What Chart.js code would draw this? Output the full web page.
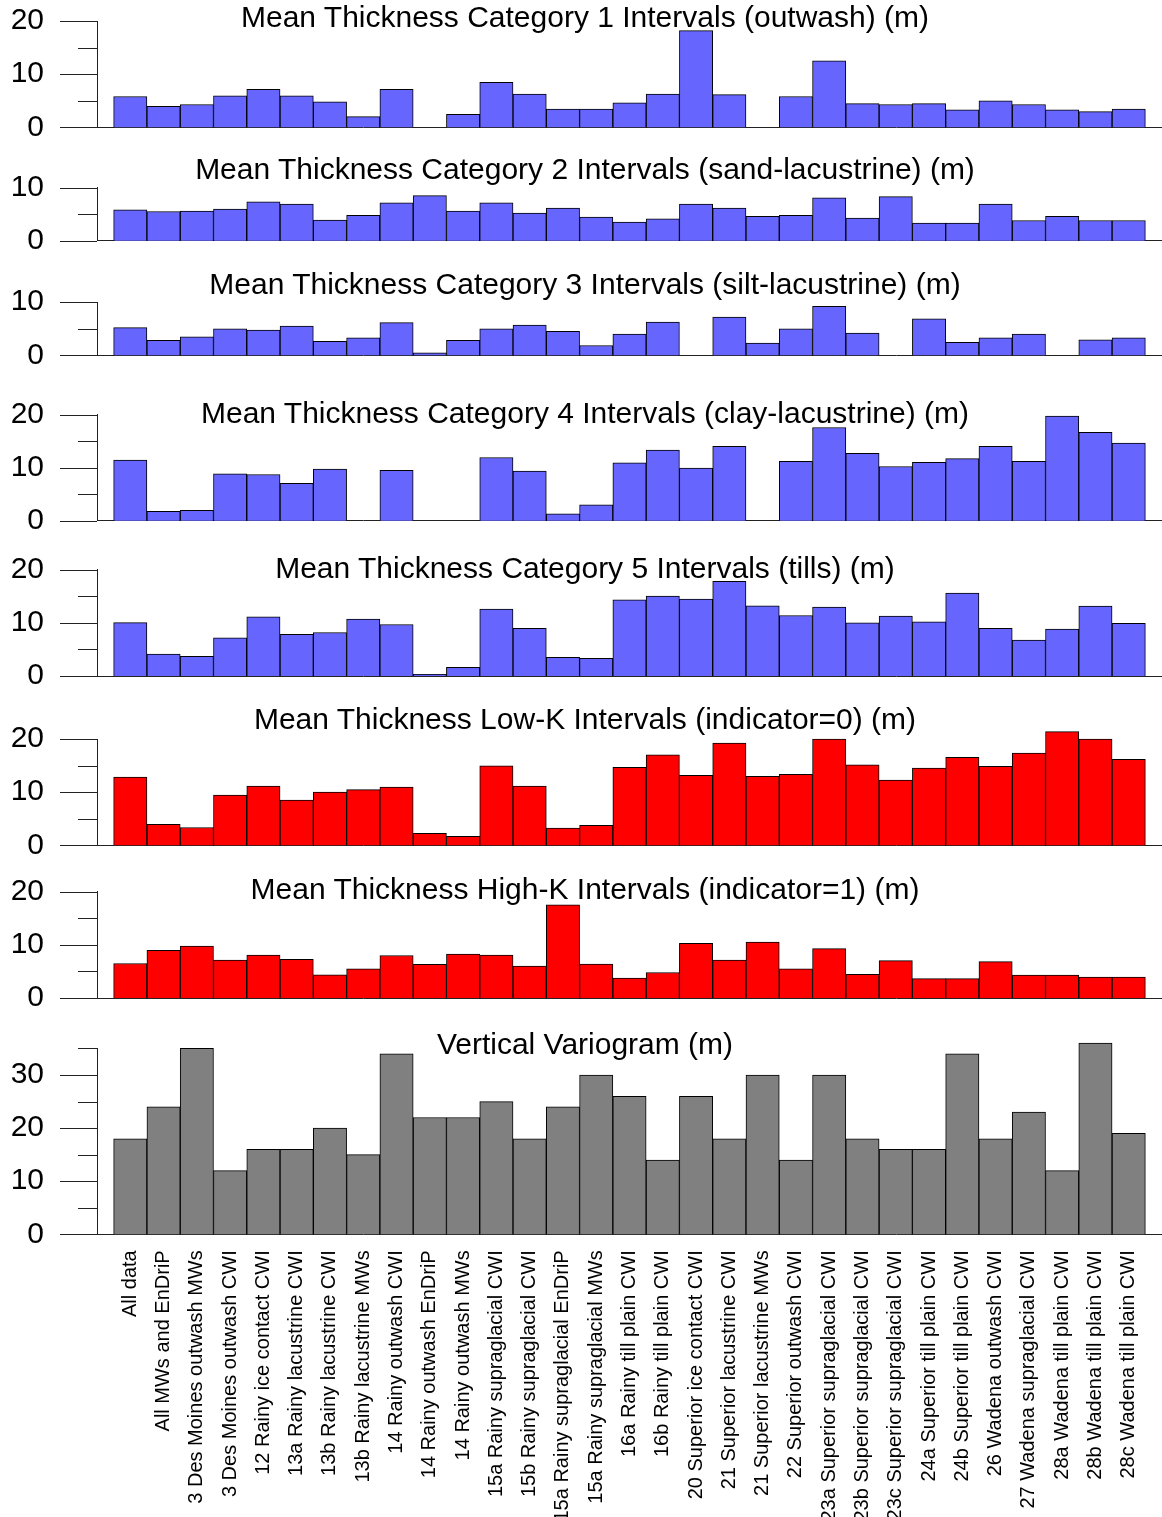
<!DOCTYPE html>
<html>
<head>
<meta charset="utf-8">
<script src="https://cdn.jsdelivr.net/npm/chart.js@4.4.1/dist/chart.umd.min.js"></script>
<style>
  body { margin:0; background:#fff; width:1162px; height:1517px; position:relative; overflow:hidden;
         font-family:"Liberation Sans", Arial, sans-serif; }
  canvas { position:absolute; left:0; }
  .ttl { position:absolute; left:0; width:1170px; text-align:center; font-size:30px; line-height:30px;
         color:#000; white-space:nowrap; }
</style>
</head>
<body>
<script>
// categories along the x axis
const categories = [
  'All data', 'All MWs and EnDriP', '3 Des Moines outwash MWs', '3 Des Moines outwash CWI',
  '12 Rainy ice contact CWI', '13a Rainy lacustrine CWI', '13b Rainy lacustrine CWI',
  '13b Rainy lacustrine MWs', '14 Rainy outwash CWI', '14 Rainy outwash EnDriP',
  '14 Rainy outwash MWs', '15a Rainy supraglacial CWI', '15b Rainy supraglacial CWI',
  '15a Rainy supraglacial EnDriP', '15a Rainy supraglacial MWs', '16a Rainy till plain CWI',
  '16b Rainy till plain CWI', '20 Superior ice contact CWI', '21 Superior lacustrine CWI',
  '21 Superior lacustrine MWs', '22 Superior outwash CWI', '23a Superior supraglacial CWI',
  '23b Superior supraglacial CWI', '23c Superior supraglacial CWI', '24a Superior till plain CWI',
  '24b Superior till plain CWI', '26 Wadena outwash CWI', '27 Wadena supraglacial CWI',
  '28a Wadena till plain CWI', '28b Wadena till plain CWI', '28c Wadena till plain CWI'
];

// mean thickness (m) per panel, null = no bar
const cat1 = [5.8, 3.95, 4.3, 5.95, 7.15, 5.95, 4.8, 2.0, 7.15, null, 2.45, 8.45, 6.25, 3.45, 3.45, 4.6,
  6.25, 18.2, 6.15, null, 5.8, 12.5, 4.45, 4.3, 4.45, 3.3, 5.0, 4.3, 3.3, 2.95, 3.45];
const cat2 = [5.8, 5.5, 5.6, 5.95, 7.3, 6.9, 3.9, 4.8, 7.15, 8.5, 5.6, 7.15, 5.2, 6.15, 4.45, 3.5,
  4.1, 6.9, 6.15, 4.6, 4.8, 8.05, 4.25, 8.3, 3.3, 3.3, 6.9, 3.8, 4.6, 3.8, 3.8];
const cat3 = [5.2, 2.8, 3.5, 5.0, 4.75, 5.5, 2.65, 3.3, 6.15, 0.45, 2.8, 5.0, 5.7, 4.5, 1.85, 4.0,
  6.25, null, 7.2, 2.3, 5.0, 9.2, 4.2, null, 6.85, 2.45, 3.3, 4.0, null, 2.9, 3.3];
const cat4 = [11.4, 1.75, 1.95, 8.85, 8.7, 7.05, 9.7, null, 9.5, null, null, 11.9, 9.35, 1.3, 3.0, 10.9,
  13.3, 9.9, 14.0, null, 11.2, 17.55, 12.7, 10.2, 11.0, 11.7, 14.0, 11.2, 19.7, 16.65, 14.6];
const cat5 = [10.05, 4.15, 3.7, 7.2, 11.15, 7.85, 8.2, 10.7, 9.7, 0.3, 1.65, 12.6, 9.0, 3.5, 3.35, 14.35,
  15.05, 14.5, 17.85, 13.2, 11.4, 13.0, 10.0, 11.3, 10.2, 15.6, 9.0, 6.75, 8.85, 13.15, 9.9];
const lowK = [12.85, 3.95, 3.35, 9.45, 11.15, 8.5, 10.0, 10.5, 10.95, 2.25, 1.7, 14.95, 11.15, 3.25, 3.75, 14.7,
  17.05, 13.2, 19.25, 13.0, 13.35, 20.0, 15.15, 12.3, 14.55, 16.55, 14.85, 17.35, 21.4, 20.0, 16.2];
const highK = [6.5, 9.0, 9.8, 7.15, 8.1, 7.3, 4.35, 5.5, 8.0, 6.35, 8.25, 8.1, 6.0, 17.55, 6.4, 3.75,
  4.8, 10.3, 7.15, 10.55, 5.5, 9.3, 4.45, 7.05, 3.65, 3.65, 6.85, 4.3, 4.3, 3.95, 3.95];
const variogram = [18, 24, 35, 12, 16, 16, 20, 15, 34, 22, 22, 25, 18, 24, 30, 26,
  14, 26, 18, 30, 14, 30, 18, 16, 16, 34, 18, 23, 12, 36, 19];

Chart.defaults.font.family = '"Liberation Sans", Arial, sans-serif';

const PX = 5.31; // pixels per metre
const panels = [
  { title: 'Mean Thickness Category 1 Intervals (outwash) (m)', values: cat1, max: 20, zero: 127.3, base: 27.5, color: '#6666ff' },
  { title: 'Mean Thickness Category 2 Intervals (sand-lacustrine) (m)', values: cat2, max: 10, zero: 240.7, base: 179.8, color: '#6666ff' },
  { title: 'Mean Thickness Category 3 Intervals (silt-lacustrine) (m)', values: cat3, max: 10, zero: 355.3, base: 294.8, color: '#6666ff' },
  { title: 'Mean Thickness Category 4 Intervals (clay-lacustrine) (m)', values: cat4, max: 20, zero: 520.7, base: 423.8, color: '#6666ff' },
  { title: 'Mean Thickness Category 5 Intervals (tills) (m)', values: cat5, max: 20, zero: 676, base: 578.8, color: '#6666ff' },
  { title: 'Mean Thickness Low-K Intervals (indicator=0) (m)', values: lowK, max: 20, zero: 845.3, base: 729.8, color: '#ff0000' },
  { title: 'Mean Thickness High-K Intervals (indicator=1) (m)', values: highK, max: 20, zero: 998, base: 899.8, color: '#ff0000' },
  { title: 'Vertical Variogram (m)', values: variogram, max: 35, zero: 1234.3, base: 1054, color: '#808080', labels: true }
];

// major/minor ticks on the left axis
const axisTicks = {
  id: 'axisTicks',
  afterDraw(chart) {
    const s = chart.scales.y, ctx = chart.ctx;
    ctx.save();
    ctx.strokeStyle = '#222';
    ctx.lineWidth = 1;
    s.ticks.forEach(t => {
      const py = Math.round(s.getPixelForValue(t.value)) + 0.5;
      const len = t.value % 10 === 0 ? 37 : 19;
      ctx.beginPath();
      ctx.moveTo(s.right - len, py);
      ctx.lineTo(s.right, py);
      ctx.stroke();
    });
    ctx.restore();
  }
};

panels.forEach(p => {
  const top = p.zero - p.max * PX;
  const cTop = Math.floor(top) - 24;
  const cBottom = p.labels ? 1517 : Math.ceil(p.zero) + 24;
  const xH = p.labels ? cBottom - p.zero : 0;

  const cv = document.createElement('canvas');
  cv.width = 1162;
  cv.height = cBottom - cTop;
  cv.style.top = cTop + 'px';
  document.body.appendChild(cv);

  const t = document.createElement('div');
  t.className = 'ttl';
  t.textContent = p.title;
  t.style.top = (p.base - 25.4) + 'px';
  document.body.appendChild(t);

  new Chart(cv, {
    type: 'bar',
    data: {
      labels: ['', ...categories, ''],
      datasets: [{
        data: [null, ...p.values, null],
        backgroundColor: p.color,
        borderColor: '#000',
        borderWidth: 1,
        barPercentage: 1,
        categoryPercentage: 1,
        clip: false
      }]
    },
    options: {
      responsive: false,
      animation: false,
      layout: { padding: { top: top - cTop, bottom: p.labels ? 0 : cBottom - p.zero, left: 0, right: 0 } },
      plugins: { legend: { display: false }, tooltip: { enabled: false } },
      scales: {
        x: {
          offset: false,
          grid: { display: false, drawTicks: false },
          border: { display: true, color: '#222', width: 1 },
          ticks: {
            display: !!p.labels,
            autoSkip: false,
            minRotation: 90,
            maxRotation: 90,
            padding: 16,
            color: '#000',
            font: { size: 20 }
          },
          afterFit(s) { s.height = xH; s.paddingLeft = 0; s.paddingRight = 0; }
        },
        y: {
          min: 0,
          max: p.max,
          grid: { display: false, drawTicks: false },
          border: { display: true, color: '#222', width: 1 },
          ticks: {
            stepSize: 5,
            autoSkip: false,
            padding: 53,
            color: '#000',
            font: { size: 30 },
            callback: v => (v % 10 === 0 ? v : '')
          },
          afterFit(s) { s.width = 97; s.paddingTop = 0; s.paddingBottom = 0; }
        }
      }
    },
    plugins: [axisTicks]
  });
});
</script>
</body>
</html>
